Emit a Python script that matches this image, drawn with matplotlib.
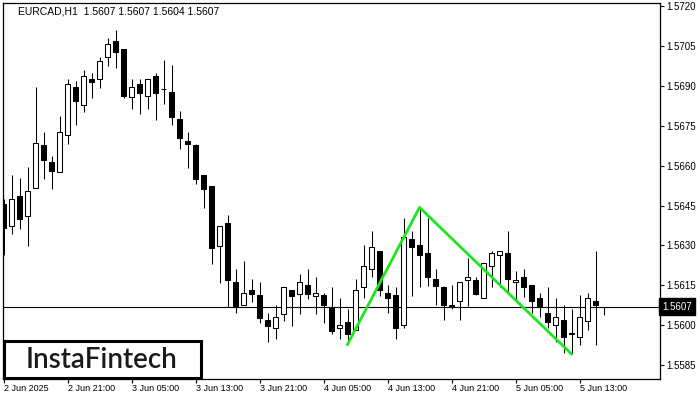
import matplotlib
matplotlib.use("Agg")
import matplotlib.pyplot as plt
from matplotlib.patches import Rectangle
import numpy as np

# ---- data (EURCAD H1) ----
opens = [1.56455, 1.56372, 1.56485, 1.56412, 1.56515, 1.56676, 1.56612, 1.56575, 1.56714, 1.56894,
         1.56827, 1.56924, 1.56924, 1.57007, 1.57067, 1.57038, 1.56857, 1.56906, 1.56863, 1.56936,
         1.56887, 1.56876, 1.56774, 1.56694, 1.56676, 1.56564, 1.56522, 1.56299, 1.56384, 1.56161,
         1.56078, 1.56131, 1.56112, 1.56018, 1.55988, 1.56041, 1.56131, 1.56119, 1.56150, 1.56111,
         1.56112, 1.56070, 1.55988, 1.56011, 1.55982, 1.56142, 1.56210, 1.56281, 1.56120, 1.56112,
         1.56000, 1.56324, 1.56301, 1.56271, 1.56174, 1.56142, 1.56072, 1.56090, 1.56172, 1.56172,
         1.56101, 1.56221, 1.56263, 1.56270, 1.56161, 1.56180, 1.56150, 1.56101, 1.56048, 1.56000,
         1.56018, 1.55970, 1.55957, 1.56017, 1.56090, 1.56070]
highs = [1.56475, 1.56565, 1.56552, 1.56596, 1.56894, 1.56725, 1.56636, 1.56787, 1.56924, 1.56918,
         1.56958, 1.56947, 1.57007, 1.57079, 1.57110, 1.57038, 1.56924, 1.56924, 1.56926, 1.56948,
         1.56997, 1.56978, 1.56805, 1.56725, 1.56683, 1.56564, 1.56522, 1.56372, 1.56414, 1.56211,
         1.56241, 1.56174, 1.56161, 1.56048, 1.56078, 1.56142, 1.56131, 1.56193, 1.56211, 1.56181,
         1.56120, 1.56144, 1.56102, 1.56060, 1.56174, 1.56301, 1.56354, 1.56281, 1.56150, 1.56142,
         1.56402, 1.56354, 1.56443, 1.56402, 1.56210, 1.56149, 1.56150, 1.56161, 1.56251, 1.56180,
         1.56233, 1.56281, 1.56281, 1.56354, 1.56204, 1.56211, 1.56150, 1.56120, 1.56144, 1.56102,
         1.56078, 1.56060, 1.56112, 1.56120, 1.56281, 1.56070]
lows = [1.56264, 1.56342, 1.56363, 1.56299, 1.56515, 1.56551, 1.56513, 1.56575, 1.56683, 1.56754,
        1.56803, 1.56855, 1.56893, 1.56976, 1.56966, 1.56855, 1.56814, 1.56795, 1.56814, 1.56771,
        1.56833, 1.56754, 1.56662, 1.56592, 1.56532, 1.56442, 1.56232, 1.56160, 1.56070, 1.56047,
        1.56078, 1.56089, 1.56010, 1.55938, 1.55949, 1.56017, 1.55998, 1.56041, 1.56100, 1.56041,
        1.56010, 1.55967, 1.55950, 1.55928, 1.55982, 1.56101, 1.56180, 1.56111, 1.56047, 1.55950,
        1.55988, 1.56111, 1.56142, 1.56149, 1.56078, 1.56018, 1.56060, 1.56018, 1.56072, 1.56112,
        1.56101, 1.56142, 1.56144, 1.56126, 1.56090, 1.56107, 1.56047, 1.56030, 1.55988, 1.55939,
        1.55897, 1.55892, 1.55927, 1.55981, 1.55927, 1.56040]
closes = [1.56364, 1.56473, 1.56401, 1.56503, 1.56684, 1.56622, 1.56581, 1.56725, 1.56906, 1.56844,
          1.56936, 1.56916, 1.56995, 1.57056, 1.57026, 1.56863, 1.56894, 1.56874, 1.56924, 1.56874,
          1.56887, 1.56784, 1.56705, 1.56683, 1.56551, 1.56513, 1.56292, 1.56372, 1.56171, 1.56072,
          1.56120, 1.56119, 1.56028, 1.55998, 1.56030, 1.56142, 1.56111, 1.56161, 1.56119, 1.56120,
          1.56077, 1.55979, 1.56000, 1.55968, 1.56132, 1.56221, 1.56293, 1.56131, 1.56101, 1.55988,
          1.56330, 1.56293, 1.56263, 1.56180, 1.56149, 1.56078, 1.56078, 1.56161, 1.56180, 1.56119,
          1.56233, 1.56270, 1.56281, 1.56174, 1.56172, 1.56142, 1.56090, 1.56072, 1.56011, 1.56030,
          1.55957, 1.55969, 1.56030, 1.56101, 1.56077, 1.56070]

pattern_idx = [43, 52, 71]
pattern_price = [1.55928, 1.56443, 1.55892]

xtick_idx = [0, 8, 16, 24, 32, 40, 48, 56, 64, 72]
xtick_labels = ["2 Jun 2025", "2 Jun 21:00", "3 Jun 05:00", "3 Jun 13:00", "3 Jun 21:00",
                "4 Jun 05:00", "4 Jun 13:00", "4 Jun 21:00", "5 Jun 05:00", "5 Jun 13:00"]
ytick_vals = [1.5585, 1.5600, 1.5615, 1.5630, 1.5645, 1.5660, 1.5675, 1.5690, 1.5705, 1.5720]
last_price = 1.5607
header = "EURCAD,H1  1.5607 1.5607 1.5604 1.5607"

# ---- figure ----
plt.rcParams['font.family'] = ['Liberation Sans', 'DejaVu Sans']
fig = plt.figure(figsize=(7, 4), dpi=100)
W, H = 700, 400
ax = fig.add_axes([2.5 / W, 1 - 378.5 / H, 657 / W, 376 / H])

o = np.array(opens); h = np.array(highs); l = np.array(lows); c = np.array(closes)
x = np.arange(len(o))
bull = c >= o
lw = 0.75

ax.vlines(x, l, h, color='black', linewidth=lw, zorder=2)
bottoms = np.minimum(o, c)
heights = np.abs(c - o)
ax.bar(x[bull], heights[bull], bottom=bottoms[bull], width=0.6,
       facecolor='white', edgecolor='black', linewidth=lw, zorder=3)
ax.bar(x[~bull], heights[~bull], bottom=bottoms[~bull], width=0.6,
       facecolor='black', edgecolor='black', linewidth=lw, zorder=3)

ax.axhline(last_price, color='black', linewidth=0.8, zorder=1)
ax.plot(pattern_idx, pattern_price, color='#1ee61e', linewidth=2.0, zorder=4)

ax.set_xlim(-0.125, 82.0)
ax.set_ylim(1.55800, 1.57213)

ax.yaxis.tick_right()
ax.set_yticks(ytick_vals)
ax.set_yticklabels([f"{v:.4f}" for v in ytick_vals], fontsize=7)
ax.tick_params(axis='y', direction='out', length=3, width=0.8, pad=2)
ax.set_xticks(xtick_idx)
ax.set_xticklabels(xtick_labels, fontsize=6.5, ha='left')
ax.tick_params(axis='x', direction='out', length=3, width=0.8, pad=1)
for sp in ax.spines.values():
    sp.set_linewidth(0.9)
    sp.set_color('black')

ax.annotate(f"{last_price:.4f}", xy=(1, last_price), xycoords=ax.get_yaxis_transform(),
            xytext=(2, 0), textcoords='offset points', va='center', ha='left',
            color='white', fontsize=7,
            bbox=dict(boxstyle='square,pad=0.35', fc='black', ec='black'))

fig.text(18 / W, 1 - 12 / H, header, fontsize=7.5, va='center', ha='left', color='black')

fig.add_artist(Rectangle((3.5 / W, 1 - 377.5 / H), 197.5 / W, 36.5 / H, transform=fig.transFigure,
                         facecolor='white', edgecolor='black', linewidth=2.2, zorder=10))
fig.text(101 / W, 1 - 360 / H, "InstaFintech", fontsize=20, family=['Lato', 'DejaVu Sans'],
         weight='semibold', va='center', ha='center', color='#1a1a1a', zorder=11)

fig.savefig("out.png", dpi=100)
